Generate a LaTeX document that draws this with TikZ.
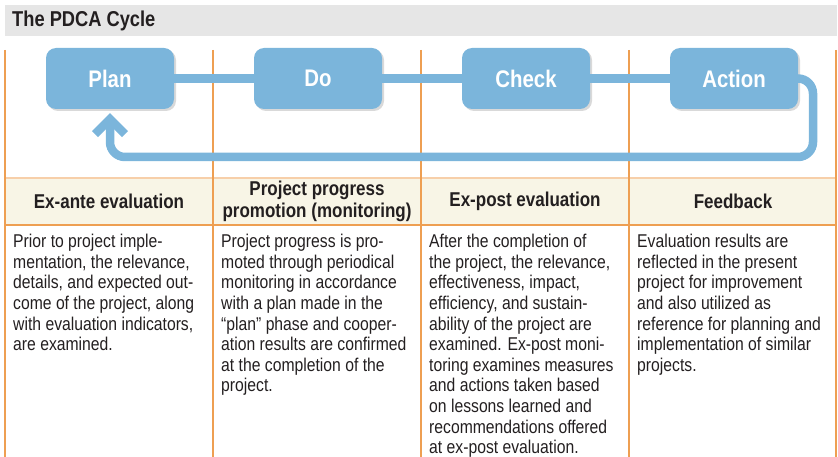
\documentclass[tikz,border=0pt]{standalone}
\usepackage{fontspec}
\setmainfont{Liberation Sans}[FakeStretch=0.85]
\usepackage{tikz}
\usetikzlibrary{calc,shadows}
\definecolor{boxblue}{HTML}{7BB5DB}
\definecolor{rulecol}{HTML}{EE9F52}
\definecolor{headfill}{HTML}{F8F5E6}
\definecolor{titlegray}{HTML}{E6E6E6}
\definecolor{ink}{HTML}{231F20}

\begin{document}
\begin{tikzpicture}[x=1pt, y=-1pt,
        phase/.style = {rectangle, rounded corners=10pt, fill=boxblue, minimum width=128pt, minimum height=61pt, inner sep=0pt, text=white, font=\fontsize{24}{26}\selectfont\bfseries, drop shadow={opacity=0.3, shadow xshift=2pt, shadow yshift=-2pt}},
        link/.style  = {draw=boxblue, line width=8.5pt},
        head/.style  = {align=center, inner sep=0pt, text=ink, font=\fontsize{20}{22.7}\selectfont\bfseries},
        body/.style  = {anchor=north west, align=left, inner sep=0pt, text=ink, font=\fontsize{18.5}{20.6}\selectfont}]

        % frame of the table
        \useasboundingbox (0,0) rectangle (838,457);
        \fill[titlegray] (5,5) rectangle (837,36);
        \node[anchor=west, inner sep=0pt, text=ink, font=\fontsize{21.5}{22}\selectfont\bfseries] (title) at (12,20.5) {The PDCA Cycle};
        \fill[headfill] (5,178) rectangle (836,225);
        \draw[rulecol!50, line width=2.2pt] (5,178) -- (836,178);
        \draw[rulecol, line width=1.1pt] (5,225) -- (836,225);
        \foreach \x in {5,213,421,629,836}
        \draw[rulecol, line width=1.1pt] (\x,50) -- (\x,457);

        % the four phases
        \node[phase] (plan)  at (110,78.5) {Plan};
        \node[phase] (do)    at (318,78.5) {Do};
        \node[phase] (check) at (526,78.5) {Check};
        \node[phase] (act)   at (734,78.5) {Action};

        % links between the phases
        \draw[link] (plan) -- (do);
        \draw[link] (do) -- (check);
        \draw[link] (check) -- (act);

        % loop back from Action to Plan
        \coordinate (cornerR) at (813,157);
        \coordinate (cornerL) at (110,157);
        \draw[link, rounded corners=15pt] (act.east) -| (cornerR) -- (cornerL) -- ($(plan.south)+(0,10)$);
        \draw[link, line join=miter] ($(plan.south)+(-15,25)$) -- ($(plan.south)+(0,10)$) -- ($(plan.south)+(15,25)$);

        % column heads
        \begin{scope}[every node/.style={head}]
            \node (hplan)  at (109,201.5) {Ex-ante evaluation};
            \node (hdo)    at (317,201.5) {Project progress\\promotion (monitoring)};
            \node (hcheck) at (525,201.5) {Ex-post evaluation};
            \node (hact)   at (733,201.5) {Feedback};
        \end{scope}

        % column texts
        \begin{scope}[every node/.style={body}]
            \node (tplan) at (13,234) {Prior to project imple-\\mentation, the relevance,\\details, and expected out-\\come of the project, along\\with evaluation indicators,\\are examined.};
            \node (tdo) at (221,234) {Project progress is pro-\\moted through periodical\\monitoring in accordance\\with a plan made in the\\“plan” phase and cooper-\\ation results are confirmed\\at the completion of the\\project.};
            \node (tcheck) at (429,234) {After the completion of\\the project, the relevance,\\effectiveness, impact,\\efficiency, and sustain-\\ability of the project are\\examined. Ex-post moni-\\toring examines measures\\and actions taken based\\on lessons learned and\\recommendations offered\\at ex-post evaluation.};
            \node (tact) at (637,234) {Evaluation results are\\reflected in the present\\project for improvement\\and also utilized as\\reference for planning and\\implementation of similar\\projects.};
        \end{scope}

    \end{tikzpicture}
\end{document}
